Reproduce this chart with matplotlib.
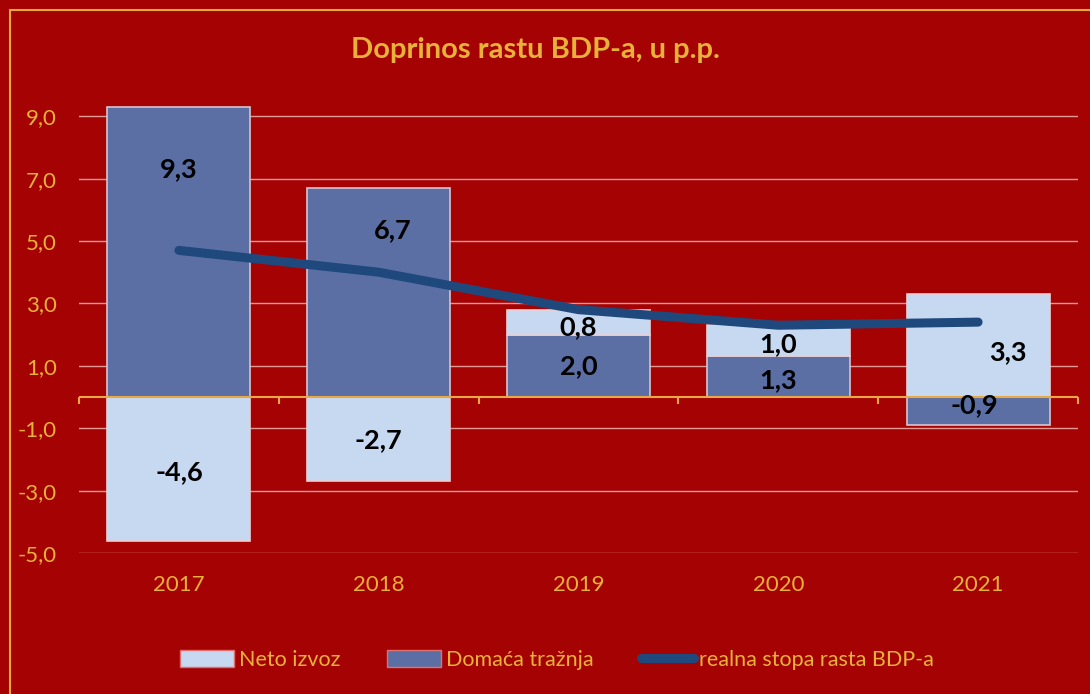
import numpy as np
import matplotlib
matplotlib.use("Agg")
import matplotlib.pyplot as plt
from matplotlib.patches import Patch, Rectangle
from matplotlib.lines import Line2D

years = ["2017", "2018", "2019", "2020", "2021"]
domaca_traznja = [9.3, 6.7, 2.0, 1.3, -0.9]
neto_izvoz = [-4.6, -2.7, 0.8, 1.0, 3.3]
realna_stopa = [4.7, 4.0, 2.8, 2.3, 2.4]
y_ticks = [-5, -3, -1, 1, 3, 5, 7, 9]

BG = "#A50204"
GOLD = "#E8B23A"
LIGHT = "#C6D9F1"
DARK = "#5B6FA4"
LINE = "#1F497D"

plt.rcParams["font.family"] = ["Lato", "DejaVu Sans"]

fig = plt.figure(figsize=(10.9, 6.94), dpi=100, facecolor=BG)
ax = fig.add_axes([79 / 1090, 1 - 553 / 694, 999 / 1090, 468 / 694])
ax.set_facecolor(BG)

x = np.arange(len(years))
w = 0.715
dom = np.array(domaca_traznja)
net = np.array(neto_izvoz)

# stack by sign, like excel does
dom_bottom = np.zeros(len(x))
net_bottom = np.where(np.sign(net) == np.sign(dom), dom, 0.0)

ax.bar(x, dom, w, bottom=dom_bottom, color=DARK, edgecolor="#D8C4CC",
       linewidth=1.2, zorder=2)
ax.bar(x, net, w, bottom=net_bottom, color=LIGHT, edgecolor="#E8D0D4",
       linewidth=1.2, zorder=2)
ax.plot(x, realna_stopa, color=LINE, lw=6.5, solid_capstyle="round", zorder=4)

# data labels (some were dragged by hand in the original)
dom_off = [2.65, 2.0, 0.0, -0.1, 0.2]
dom_dx = [0.0, 0.07, 0.0, 0.0, -0.02]
net_off = [-0.1, -0.03, -0.15, -0.1, -0.2]
net_dx = [0.0, 0.0, 0.0, 0.0, 0.15]
for i in range(len(x)):
    yc = dom_bottom[i] + dom[i] / 2 + dom_off[i]
    ax.text(x[i] + dom_dx[i], yc, ("%.1f" % dom[i]).replace(".", ","),
            ha="center", va="center", fontsize=19.5, fontweight="bold",
            color="black", zorder=5)
    yc = net_bottom[i] + net[i] / 2 + net_off[i]
    ax.text(x[i] + net_dx[i], yc, ("%.1f" % net[i]).replace(".", ","),
            ha="center", va="center", fontsize=19.5, fontweight="bold",
            color="black", zorder=5)

ax.set_xlim(-0.5, len(x) - 0.5)
ax.set_ylim(-5, 10)
ax.set_yticks(y_ticks)
ax.set_yticklabels([("%.1f" % v).replace(".", ",") for v in y_ticks])
ax.grid(axis="y", color="#E39A94", lw=1.0, zorder=1)
ax.set_axisbelow(True)

ax.axhline(0, color="#E8A848", lw=1.5, zorder=3)
bounds = np.arange(len(x) + 1) - 0.5
ax.vlines(bounds, -0.23, 0, color="#E8A848", lw=1.5, zorder=3, clip_on=False)

ax.set_xticks(x)
ax.set_xticklabels(years)
ax.tick_params(axis="x", length=0, pad=16, labelsize=16, labelcolor=GOLD)
ax.tick_params(axis="y", length=0, pad=16, labelsize=16, labelcolor=GOLD)
for s in ax.spines.values():
    s.set_visible(False)

fig.text(535 / 1090, 1 - 50 / 694, "Doprinos rastu BDP-a, u p.p.", ha="center",
         va="center", fontsize=21, fontweight="bold", color=GOLD)

# outer chart border
fig.patches.append(Rectangle((10 / 1090, -0.1), 1.2, 1 - 10 / 694 + 0.1,
                             transform=fig.transFigure, fill=False,
                             edgecolor="#E8A838", lw=1.5))

handles = [Patch(facecolor=LIGHT, edgecolor="#E07070", lw=1.0),
           Patch(facecolor=DARK, edgecolor="#E07070", lw=1.0),
           Line2D([], [], color=LINE, lw=6.5, solid_capstyle="round")]
labels = ["Neto izvoz", "Domaća tražnja", "realna stopa rasta BDP-a"]
leg = fig.legend(handles, labels, loc="center", bbox_to_anchor=(557 / 1090, 1 - 660 / 694),
                 ncol=3, frameon=False, fontsize=15.5, handlelength=2.5,
                 handleheight=0.8, handletextpad=0.2, columnspacing=2.2)
for t in leg.get_texts():
    t.set_color(GOLD)

fig.savefig("out.png", dpi=100, facecolor=BG)
